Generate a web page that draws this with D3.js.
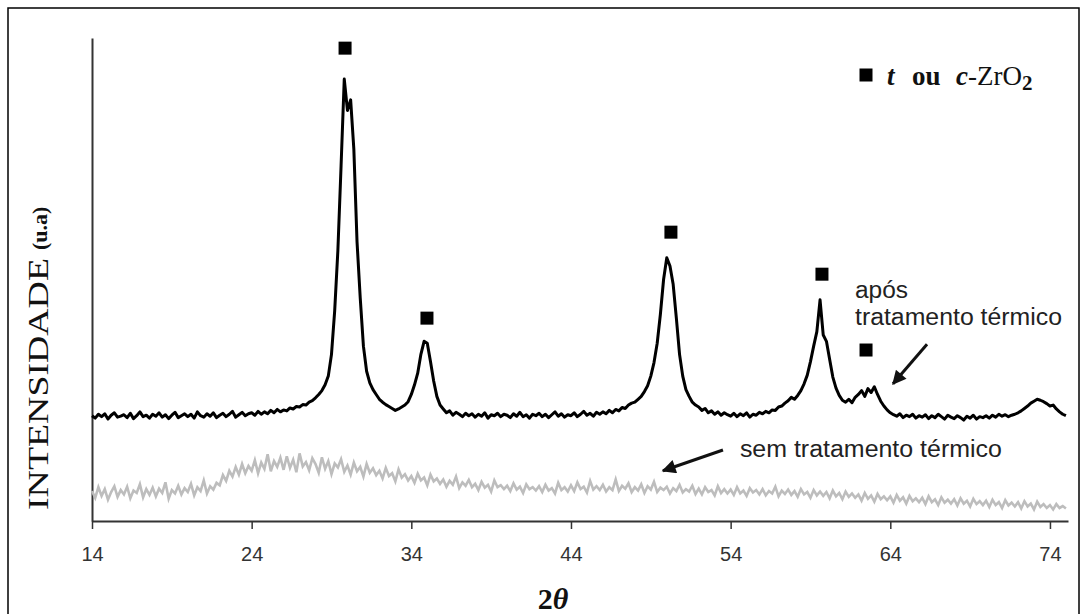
<!DOCTYPE html>
<html>
<head>
<meta charset="utf-8">
<script src="https://cdn.jsdelivr.net/npm/d3@7"></script>
<style>
body { margin: 0; background: #fff; }
</style>
</head>
<body>
<div id="xrd-chart"></div>
<script>
// 2theta sampling: 14.0 .. 75.0, every 0.2 deg
const thetaStart = 14, thetaStep = 0.2;

// after heat treatment (black)
const withTreatment = [
  218,213,221,216,222,211,219,224,215,217,
  220,214,223,212,218,226,216,219,213,221,
  217,224,215,220,212,219,225,214,218,222,
  216,221,213,226,218,215,222,217,224,214,
  219,223,216,221,227,215,220,225,218,222,
  224,219,227,221,226,222,229,224,231,226,
  230,228,234,232,237,236,241,240,246,249,
  255,262,270,282,300,345,435,560,735,915,
  850,872,770,578,462,362,310,286,272,262,
  252,246,241,237,233,229,232,236,240,247,
  262,282,306,345,372,368,330,290,258,240,
  232,224,228,219,225,221,216,223,218,222,
  215,221,217,224,213,220,218,223,216,221,
  219,214,222,217,225,216,220,213,221,218,
  223,216,221,214,220,226,217,222,215,220,
  218,224,216,221,227,219,223,217,225,221,
  226,222,229,224,231,228,235,233,240,244,
  246,252,258,268,280,300,328,368,428,500,
  545,528,490,420,345,300,272,258,246,240,
  236,229,233,224,228,221,226,219,224,220,
  217,223,216,222,218,224,215,221,219,225,
  222,227,224,230,229,236,238,244,249,256,
  252,260,270,284,302,330,362,392,458,385,
  372,335,298,275,260,250,246,252,245,256,
  262,270,258,274,266,278,262,248,238,230,
  224,220,217,222,214,219,216,221,213,218,
  215,220,212,218,214,221,216,211,219,215,
  212,218,214,209,217,213,219,211,216,214,
  218,213,219,215,221,217,220,216,219,221,
  224,228,233,238,244,248,252,250,247,243,
  238,240,232,226,221,218
];

// without heat treatment (grey)
const withoutTreatment = [
  62,48,70,52,66,44,60,72,50,64,
  55,71,47,63,58,76,49,66,54,69,
  51,67,58,80,46,64,57,73,55,68,
  60,77,53,70,62,84,57,72,65,79,
  74,95,83,104,92,112,96,118,99,114,
  104,126,99,121,108,138,103,124,112,131,
  106,134,110,127,101,140,113,122,105,130,
  118,100,132,108,124,97,119,111,128,102,
  115,96,121,103,112,92,118,100,109,95,
  104,88,110,93,99,82,107,90,97,84,
  93,79,98,84,90,74,96,82,88,77,
  86,71,83,75,92,68,80,73,85,70,
  77,64,81,69,75,61,84,70,74,66,
  73,62,78,65,71,58,76,66,70,63,
  72,60,75,63,68,57,79,64,70,61,
  74,62,80,66,71,59,83,65,72,64,
  75,61,70,64,86,62,73,67,78,60,
  70,63,76,58,72,65,81,60,69,64,
  71,57,68,62,75,59,66,61,73,56,
  67,55,70,60,64,53,72,58,66,57,
  65,54,70,57,63,52,68,59,64,55,
  66,53,62,57,71,51,63,56,65,54,
  62,50,66,55,60,48,64,53,61,52,
  60,47,63,51,58,45,61,50,57,48,
  55,42,58,46,53,40,56,45,51,43,
  51,38,54,42,49,36,52,41,47,39,
  48,35,51,39,45,33,49,38,44,36,
  45,32,47,36,42,30,46,35,41,33,
  42,29,44,33,39,27,43,32,38,30,
  39,26,41,30,36,24,40,29,35,27,
  33,24,35,27,31,26
];

// t or c-ZrO2 reflections (square markers)
const peakTheta = [29.85, 34.98, 50.26, 59.72, 62.48];
const peakMark = [979, 420, 598, 511, 354];

const xTicks = [14, 24, 34, 44, 54, 64, 74];

const twoTheta = d3.range(withTreatment.length).map(i => thetaStart + i * thetaStep);

const width = 1084, height = 614;

const svg = d3.select("#xrd-chart").append("svg")
    .attr("width", width)
    .attr("height", height)
    .style("display", "block");

svg.append("rect")
    .attr("x", 8).attr("y", 8)
    .attr("width", 1071).attr("height", 640)
    .attr("fill", "none")
    .attr("stroke", "#000")
    .attr("stroke-width", 1.5);

const x = d3.scaleLinear().domain([14, 75.13]).range([92, 1068]);
const y = d3.scaleLinear().domain([0, 1000]).range([521, 38]);

// axes
const xAxis = svg.append("g")
    .attr("transform", `translate(0,${y(0)})`)
    .call(d3.axisBottom(x).tickValues(xTicks).tickSize(8).tickSizeOuter(0).tickPadding(18));
xAxis.select(".domain").attr("stroke", "#333").attr("stroke-width", 2);
xAxis.selectAll(".tick line").attr("stroke", "#333").attr("stroke-width", 1.5);
xAxis.selectAll(".tick text")
    .attr("fill", "#333")
    .style("font-family", "'Liberation Sans Narrow', 'Liberation Sans', Arial, sans-serif")
    .style("font-size", "20px");

const yAxis = svg.append("g")
    .attr("transform", `translate(${x(14)},0)`)
    .call(d3.axisLeft(y).tickValues([]).tickSizeOuter(0));
yAxis.select(".domain").attr("stroke", "#333").attr("stroke-width", 2);

// patterns
const line = d3.line()
    .x((d, i) => x(twoTheta[i]))
    .y(d => y(d));

svg.append("path")
    .datum(withoutTreatment)
    .attr("fill", "none")
    .attr("stroke", "#bdbdbd")
    .attr("stroke-width", 2.6)
    .attr("d", line);

svg.append("path")
    .datum(withTreatment)
    .attr("fill", "none")
    .attr("stroke", "#000")
    .attr("stroke-width", 3)
    .attr("stroke-linejoin", "round")
    .attr("d", line);

// peak markers
svg.selectAll(".peak-mark")
    .data(peakTheta)
    .enter()
    .append("rect")
    .attr("class", "peak-mark")
    .attr("x", d => x(d) - 6.5)
    .attr("y", (d, i) => y(peakMark[i]) - 6.5)
    .attr("width", 13)
    .attr("height", 13)
    .attr("fill", "#000");

// legend
svg.append("rect")
    .attr("x", 859.5).attr("y", 68.5)
    .attr("width", 13).attr("height", 13)
    .attr("fill", "#000");

const legend = svg.append("text")
    .attr("y", 85)
    .style("font-family", "'Liberation Serif', 'Times New Roman', serif")
    .style("font-size", "27px")
    .attr("fill", "#111");
legend.append("tspan").attr("x", 887).style("font-style", "italic").style("font-weight", "bold").text("t");
legend.append("tspan").attr("x", 912).style("font-weight", "bold").text("ou");
legend.append("tspan").attr("x", 956).style("font-style", "italic").style("font-weight", "bold").text("c");
legend.append("tspan").text("-ZrO");
legend.append("tspan").attr("dy", 5).style("font-size", "21px").style("font-weight", "bold").text("2");

// axis titles
svg.append("text")
    .attr("transform", "translate(48,510) rotate(-90)")
    .attr("textLength", 252)
    .attr("lengthAdjust", "spacingAndGlyphs")
    .style("font-family", "'Liberation Serif', 'Times New Roman', serif")
    .style("font-size", "29px")
    .attr("fill", "#111")
    .text("INTENSIDADE");

svg.append("text")
    .attr("transform", "translate(47,250) rotate(-90)")
    .style("font-family", "'Liberation Serif', 'Times New Roman', serif")
    .style("font-size", "22px")
    .style("font-weight", "bold")
    .attr("fill", "#111")
    .text("(u.a)");

const xTitle = svg.append("text")
    .attr("x", 553).attr("y", 609)
    .attr("text-anchor", "middle")
    .style("font-family", "'Liberation Serif', 'Times New Roman', serif")
    .style("font-size", "30px")
    .style("font-weight", "bold")
    .attr("fill", "#111");
xTitle.append("tspan").text("2");
xTitle.append("tspan").style("font-style", "italic").text("θ");

// annotations
svg.append("defs").append("marker")
    .attr("id", "arrow-head")
    .attr("viewBox", "0 0 10 10")
    .attr("refX", 9).attr("refY", 5)
    .attr("markerWidth", 18).attr("markerHeight", 14)
    .attr("markerUnits", "userSpaceOnUse")
    .attr("orient", "auto")
    .append("path")
    .attr("d", "M0,0 L10,5 L0,10 z")
    .attr("fill", "#111");

const arrows = [
    {from: [66.30, 366], to: [64.17, 284]},
    {from: [53.52, 147], to: [49.76, 104]}
];
svg.selectAll(".note-arrow")
    .data(arrows)
    .enter()
    .append("line")
    .attr("class", "note-arrow")
    .attr("x1", d => x(d.from[0]))
    .attr("y1", d => y(d.from[1]))
    .attr("x2", d => x(d.to[0]))
    .attr("y2", d => y(d.to[1]))
    .attr("stroke", "#111")
    .attr("stroke-width", 3)
    .attr("marker-end", "url(#arrow-head)");

const notes = [
    {text: "após", at: [61.79, 462], len: 53},
    {text: "tratamento térmico", at: [61.79, 406], len: 207},
    {text: "sem tratamento térmico", at: [54.58, 132], len: 262}
];
svg.selectAll(".note")
    .data(notes)
    .enter()
    .append("text")
    .attr("class", "note")
    .attr("x", d => x(d.at[0]))
    .attr("y", d => y(d.at[1]))
    .attr("textLength", d => d.len)
    .attr("lengthAdjust", "spacingAndGlyphs")
    .style("font-family", "'Liberation Sans', Arial, sans-serif")
    .style("font-size", "23px")
    .attr("fill", "#222")
    .text(d => d.text);
</script>
</body>
</html>
